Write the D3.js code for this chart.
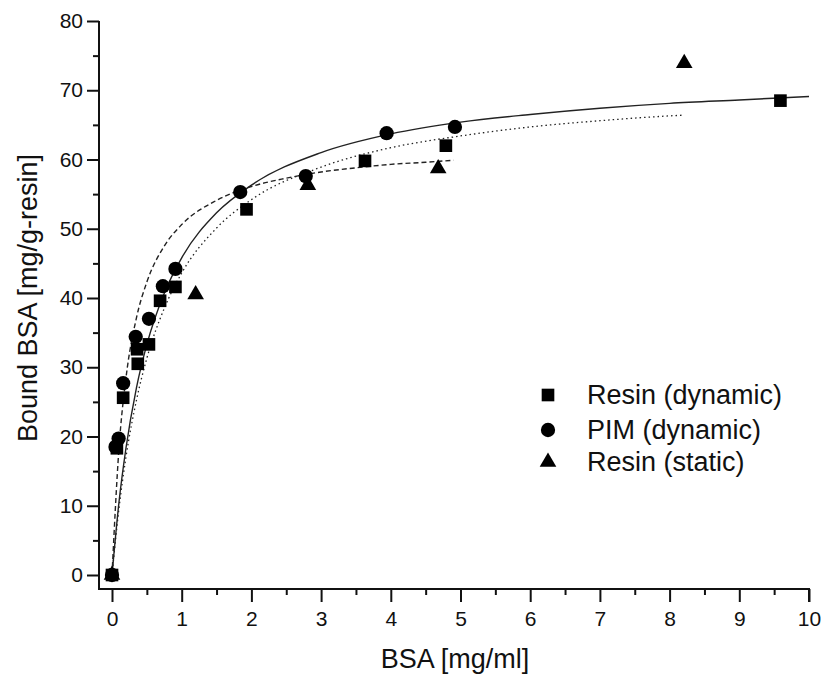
<!DOCTYPE html>
<html>
<head>
<meta charset="utf-8">
<script src="https://cdn.jsdelivr.net/npm/d3@7"></script>
<style>
  body { margin: 0; background: #fff; }
  text { font-family: "Liberation Sans", Arial, sans-serif; fill: #111; }
</style>
</head>
<body>
<svg id="chart" width="822" height="675"></svg>
<script>
// measured points (BSA mg/ml, bound mg/g-resin)
const resinDynX = [0, 0.07, 0.16, 0.36, 0.37, 0.53, 0.69, 0.91, 1.93, 3.63, 4.79, 9.59];
const resinDynY = [0, 18.3, 25.6, 32.6, 30.5, 33.3, 39.6, 41.6, 52.8, 59.8, 62.0, 68.5];

const pimDynX = [0, 0.05, 0.095, 0.16, 0.34, 0.53, 0.73, 0.91, 1.84, 2.78, 3.94, 4.92];
const pimDynY = [0, 18.5, 19.7, 27.7, 34.4, 37.0, 41.7, 44.2, 55.3, 57.6, 63.8, 64.7];

const resinStatX = [0, 1.2, 2.81, 4.68, 8.21];
const resinStatY = [0, 40.5, 56.3, 58.7, 73.9];

// fitted curves
const solidX = [0, 0.1, 0.2, 0.35, 0.5, 0.75, 1, 1.5, 2, 3, 4, 5, 6, 7, 8, 9, 10];
const solidY = [0, 10.5, 18.3, 27.0, 33.3, 40.7, 45.8, 52.3, 56.3, 61.0, 63.7, 65.4, 66.5, 67.4, 68.1, 68.6, 69.1];

const dottedX = [0, 0.1, 0.2, 0.35, 0.5, 0.75, 1, 1.5, 2, 3, 4, 5, 6, 7, 8, 8.19];
const dottedY = [0, 9.6, 17.0, 25.2, 31.3, 38.5, 43.6, 50.1, 54.2, 58.9, 61.7, 63.4, 64.7, 65.6, 66.3, 66.4];

const dashedX = [0, 0.1, 0.2, 0.35, 0.5, 0.75, 1, 1.5, 2, 2.5, 3, 3.5, 4, 4.5, 4.9];
const dashedY = [0, 18.3, 28.4, 37.1, 42.3, 47.5, 50.6, 54.1, 56.1, 57.3, 58.2, 58.8, 59.3, 59.6, 59.9];

const xTicks = [0, 1, 2, 3, 4, 5, 6, 7, 8, 9, 10];
const yTicks = [0, 10, 20, 30, 40, 50, 60, 70, 80];
const legendLabels = ["Resin (dynamic)", "PIM (dynamic)", "Resin (static)"];

const svg = d3.select("#chart");

const x = d3.scaleLinear().domain([0, 10]).range([112, 809]);
const y = d3.scaleLinear().domain([0, 80]).range([575, 21]);

const axisX = 99;   // y axis sits left of x = 0
const axisY = 589;  // x axis sits below y = 0

// minor ticks
const minorX = d3.range(0.5, 10, 1);
const minorY = d3.range(5, 80, 10);

const gx = svg.append("g").attr("transform", `translate(0,${axisY})`);
gx.call(d3.axisBottom(x).tickValues(xTicks).tickSize(13).tickPadding(9).tickSizeOuter(0));
gx.append("g").call(d3.axisBottom(x).tickValues(minorX).tickSize(6).tickFormat(""));
gx.selectAll(".domain").remove();

const gy = svg.append("g").attr("transform", `translate(${axisX},0)`);
gy.call(d3.axisLeft(y).tickValues(yTicks).tickSize(12).tickPadding(4).tickSizeOuter(0));
gy.append("g").call(d3.axisLeft(y).tickValues(minorY).tickSize(6).tickFormat(""));
gy.selectAll(".domain").remove();

svg.selectAll(".tick line").attr("stroke", "#111").attr("stroke-width", 2);
svg.selectAll(".tick text").style("font-size", "21px").attr("fill", "#111");

// axis lines
svg.append("path")
  .attr("d", `M${axisX},${y(80)}V${axisY}H${x(10)}V${axisY + 13}`)
  .attr("fill", "none")
  .attr("stroke", "#111")
  .attr("stroke-width", 2);

// axis titles
svg.append("text")
  .attr("x", 455)
  .attr("y", 668)
  .attr("text-anchor", "middle")
  .style("font-size", "27px")
  .text("BSA [mg/ml]");

svg.append("text")
  .attr("transform", `translate(37,298) rotate(-90)`)
  .attr("text-anchor", "middle")
  .style("font-size", "27px")
  .text("Bound BSA [mg/g-resin]");

// fitted lines
const line = d3.line()
  .x((d) => x(d[0]))
  .y((d) => y(d[1]))
  .curve(d3.curveMonotoneX);

const fits = [
  { xs: solidX, ys: solidY, dash: null, w: 1.4 },
  { xs: dottedX, ys: dottedY, dash: "1.5,3", w: 1.3 },
  { xs: dashedX, ys: dashedY, dash: "5,3", w: 1.4 }
];

fits.forEach((f) => {
  svg.append("path")
    .datum(f.xs.map((v, i) => [v, f.ys[i]]))
    .attr("fill", "none")
    .attr("stroke", "#222")
    .attr("stroke-width", f.w)
    .attr("stroke-dasharray", f.dash)
    .attr("d", line);
});

// markers
const series = [
  { xs: resinDynX, ys: resinDynY, sym: d3.symbolSquare, size: 160 },
  { xs: pimDynX, ys: pimDynY, sym: d3.symbolCircle, size: 160 },
  { xs: resinStatX, ys: resinStatY, sym: d3.symbolTriangle, size: 120 }
];

series.forEach((s) => {
  svg.append("g")
    .selectAll("path")
    .data(s.xs.map((v, i) => [v, s.ys[i]]))
    .enter()
    .append("path")
    .attr("transform", (d) => `translate(${x(d[0])},${y(d[1])})`)
    .attr("d", d3.symbol().type(s.sym).size(s.size))
    .attr("fill", "#000");
});

// legend
const legendY = [395, 430, 462];
const legend = svg.append("g");
series.forEach((s, i) => {
  legend.append("path")
    .attr("transform", `translate(548,${legendY[i]})`)
    .attr("d", d3.symbol().type(s.sym).size(s.size))
    .attr("fill", "#000");
  legend.append("text")
    .attr("x", 587)
    .attr("y", legendY[i] + 9)
    .style("font-size", "27px")
    .text(legendLabels[i]);
});
</script>
</body>
</html>
